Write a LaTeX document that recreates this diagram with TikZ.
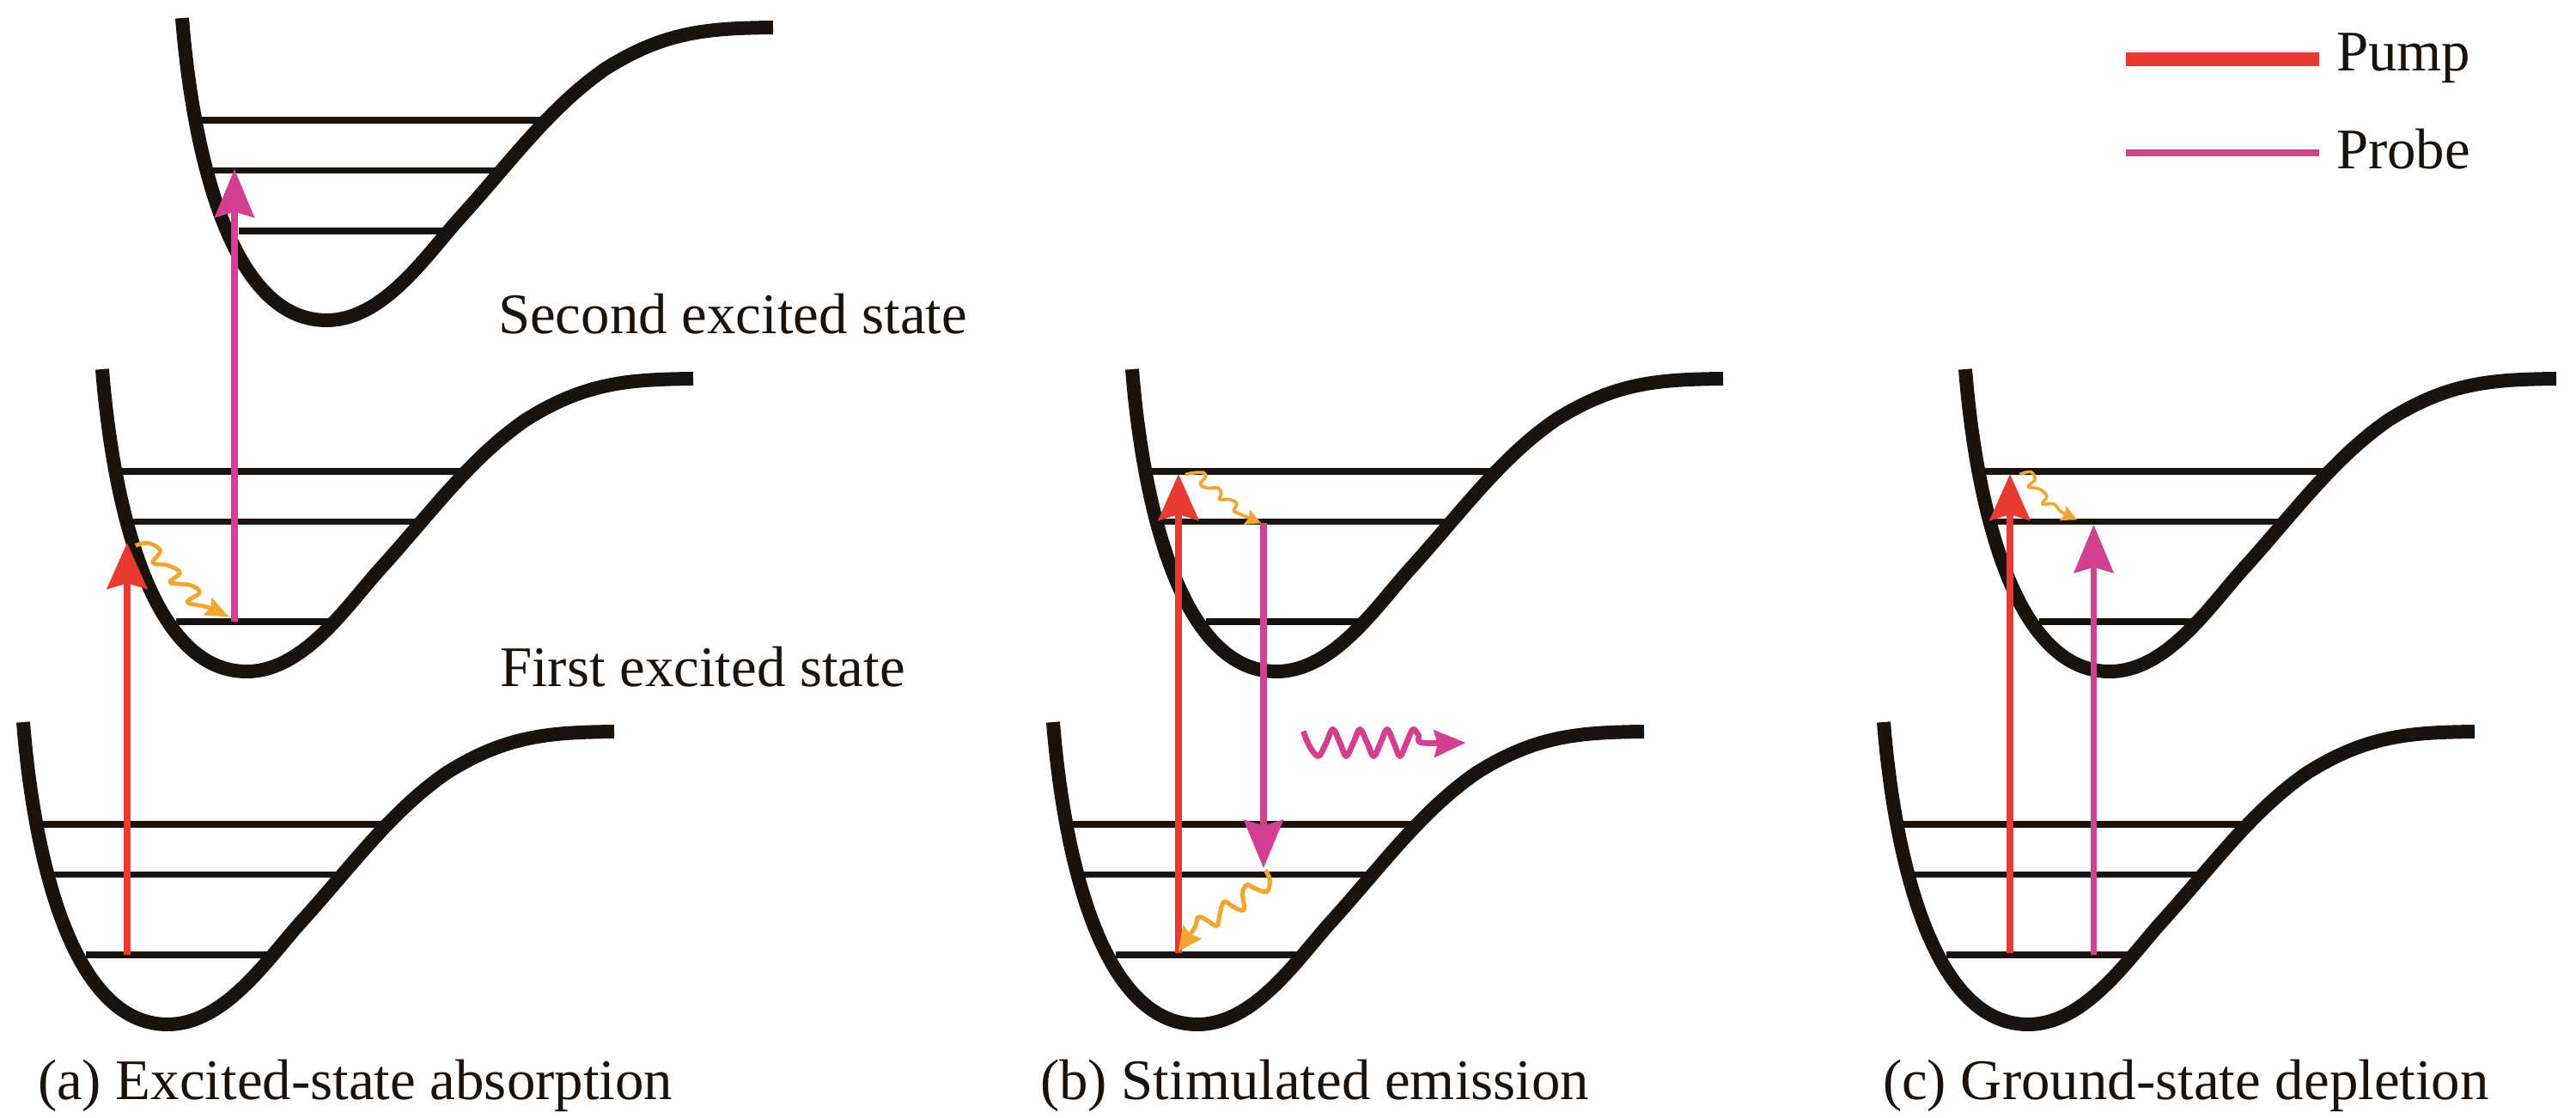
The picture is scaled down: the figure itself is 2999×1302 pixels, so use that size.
\documentclass[tikz,border=0pt]{standalone}
\usepackage{fontspec}
\setmainfont{Liberation Serif}
\usetikzlibrary{arrows.meta}
\definecolor{inkblack}{HTML}{19130F}
\definecolor{pumpred}{HTML}{E83A30}
\definecolor{probepink}{HTML}{D2408F}
\definecolor{relaxorange}{HTML}{F2A530}
\tikzset{
  wellline/.style={draw=inkblack,line width=4pt,line join=round},
  levelline/.style={draw=inkblack,line width=1.9pt},
  pumparrow/.style={draw=pumpred,line width=2.1pt,-{Stealth[length=13.4pt,width=11.6pt,inset=1.6pt]}},
  probearrow/.style={draw=probepink,line width=1.8pt,-{Stealth[length=14pt,width=11.4pt,inset=1.6pt]}},
  relax/.style={draw=relaxorange,line width=#1,line join=round},
  relax/.default=0.9pt,
  label/.style={anchor=base west,inner sep=0pt,outer sep=0pt,text=inkblack,font=\fontsize{16.72}{20}\selectfont},
}
\newcommand{\wellshape}[5]{%
  \begin{scope}[shift={(#1,#2)}]
    \draw[wellline] (27,841) .. controls (38,980) and (78,1193) .. (195,1193)
       .. controls (262,1193) and (312,1116) .. (352,1072)
       .. controls (410,1008) and (455,945) .. (520,900)
       .. controls (590,856) and (640,853) .. (715,852);
    \draw[levelline] (50,960) -- (445,960);
    \draw[levelline] (63,1018.5) -- (394,1018.5);
    \draw[levelline] (#4,#3) -- (#5,#3);
  \end{scope}}
\begin{document}
\begin{tikzpicture}[x=0.25pt,y=-0.25pt]
\useasboundingbox (0,0) rectangle (2999,1302);
% wells
\wellshape{185}{-820}{1089}{93}{333}
\wellshape{92}{-411}{1135}{113}{291}
\wellshape{0}{0}{1112}{100}{312}
\wellshape{1291}{-411}{1135}{113}{291}
\wellshape{1199}{0}{1112}{100}{312}
\wellshape{2261}{-411}{1135}{113}{291}
\wellshape{2166}{0}{1112}{100}{312}
% arrow end points
\coordinate (aPumpS) at (148,1112);
\coordinate (aPumpT) at (148,632);
\coordinate (aProbeS) at (273,724);
\coordinate (aProbeT) at (273,197);
\coordinate (bPumpS) at (1372,1110);
\coordinate (bPumpT) at (1372,552);
\coordinate (bProbeS) at (1471,609);
\coordinate (bProbeT) at (1471,1011);
\coordinate (cPumpS) at (2340,1110);
\coordinate (cPumpT) at (2340,552);
\coordinate (cProbeS) at (2437.5,1112);
\coordinate (cProbeT) at (2437.5,611);
\draw[pumparrow] (aPumpS) -- (aPumpT);
\draw[probearrow] (aProbeS) -- (aProbeT);
\draw[pumparrow] (bPumpS) -- (bPumpT);
\draw[probearrow] (bProbeS) -- (bProbeT);
\draw[pumparrow] (cPumpS) -- (cPumpT);
\draw[probearrow] (cProbeS) -- (cProbeT);
% relaxation squiggles
\begin{scope}[shift={(0,400)},x=0.1435pt,y=-0.1435pt]
  \draw[relax=1.2pt,-{Stealth[length=7pt,width=5.5pt,inset=1pt]}] plot[smooth,tension=0.6] coordinates {(275,410) (300,405) (325,420) (310,445) (340,450) (365,465) (345,485) (385,490) (405,505) (380,525) (420,535) (465,555)};
\end{scope}
\begin{scope}[shift={(1340,530)},x=0.0833pt,y=-0.0833pt]
  \draw[relax=0.95pt,-{Stealth[length=4.5pt,width=4.5pt,inset=0.6pt]}] plot[smooth,tension=0.6] coordinates {(120,68) (150,62) (185,62) (190,78) (172,100) (195,115) (235,115) (245,135) (240,155) (275,155) (300,170) (290,195) (320,210) (385,238)};
\end{scope}
\begin{scope}[shift={(1350,1000)},x=0.0833pt,y=-0.0833pt]
  \draw[relax=1.3pt,-{Stealth[length=7pt,width=6.5pt,inset=0.8pt]}] plot[smooth,tension=0.6] coordinates {(370,40) (385,75) (375,115) (335,105) (305,92) (290,120) (295,178) (260,170) (225,150) (210,195) (200,235) (165,215) (135,205) (120,245) (65,325)};
\end{scope}
\begin{scope}[shift={(2150,400)},x=0.1354pt,y=-0.1438pt]
  \draw[relax=0.9pt,-{Stealth[length=4.5pt,width=4.5pt,inset=0.6pt]}] plot[smooth,tension=0.6] coordinates {(372,265) (395,260) (405,275) (390,290) (415,295) (430,310) (420,325) (445,325) (460,340) (495,357)};
\end{scope}
% emitted photon
\begin{scope}[shift={(1480,820)},x=0.0833pt,y=-0.0833pt]
  \draw[draw=probepink,line width=1.7pt,line join=round,-{Stealth[length=9.2pt,width=7.8pt,inset=1pt]}] plot[smooth,tension=0.55] coordinates {(112,95) (135,150) (165,182) (190,140) (215,88) (240,135) (262,182) (287,135) (310,88) (335,135) (358,182) (382,135) (405,88) (428,135) (450,182) (473,135) (495,88) (515,110) (528,135) (680,135)};
\end{scope}
% legend
\coordinate (lgPumpA) at (2475,69);
\coordinate (lgPumpB) at (2700,69);
\coordinate (lgProbeA) at (2475,178);
\coordinate (lgProbeB) at (2700,178);
\draw[draw=pumpred,line width=4pt] (lgPumpA) -- (lgPumpB);
\draw[draw=probepink,line width=2pt] (lgProbeA) -- (lgProbeB);
\node[label] (pumpLabel) at (2720,83) {Pump};
\node[label] (probeLabel) at (2720,197) {Probe};
% state labels
\node[label] (second) at (580,389) {Second excited state};
\node[label] (first) at (582,800) {First excited state};
% captions
\node[label] (capA) at (44,1281) {(a) Excited-state absorption};
\node[label] (capB) at (1211,1281) {(b) Stimulated emission};
\node[label] (capC) at (2192,1281) {(c) Ground-state depletion};
\end{tikzpicture}
\end{document}
